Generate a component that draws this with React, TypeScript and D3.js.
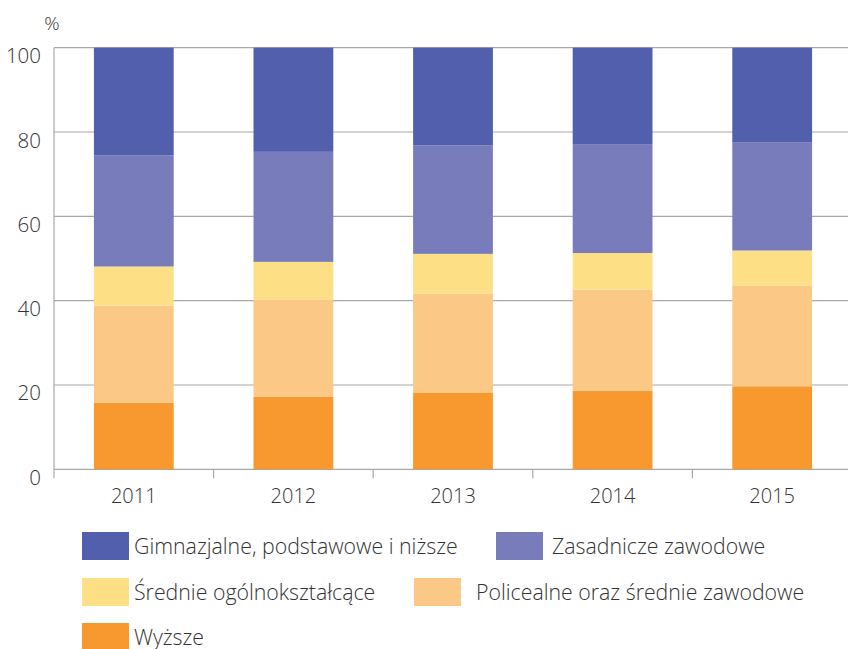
import React, { useEffect, useRef } from 'react';
import * as d3 from 'd3';

const years = ['2011', '2012', '2013', '2014', '2015'];
const seriesNames = [
  'Wyższe',
  'Policealne oraz średnie zawodowe',
  'Średnie ogólnokształcące',
  'Zasadnicze zawodowe',
  'Gimnazjalne, podstawowe i niższe',
];
// shares in %, per year
const wyzsze = [15.8, 17.2, 18.1, 18.6, 19.7];
const policealne = [23.0, 23.0, 23.6, 24.0, 23.9];
const srednie = [9.3, 9.0, 9.4, 8.7, 8.3];
const zasadnicze = [26.4, 26.1, 25.7, 25.7, 25.7];
const gimnazjalne = [25.5, 24.7, 23.2, 23.0, 22.4];
const colors = ['#f7992e', '#fcc886', '#fde085', '#797cba', '#515fad'];
const yTicks = [0, 20, 40, 60, 80, 100];

// legend order as in the picture
const legendOrder = [4, 3, 2, 1, 0];

const App = () => {
  const svgRef = useRef<SVGSVGElement>(null);

  useEffect(() => {
    const svg = d3.select(svgRef.current);
    svg.selectAll('*').remove();

    const font = '"Open Sans", sans-serif';
    const textColor = '#333333';
    const left = 54;
    const right = 852;
    const top = 47.7;
    const bottom = 469.3;

    const rows = years.map((y, i) => ({
      year: y,
      s0: wyzsze[i],
      s1: policealne[i],
      s2: srednie[i],
      s3: zasadnicze[i],
      s4: gimnazjalne[i],
    }));
    const stack = d3.stack<any>().keys(['s0', 's1', 's2', 's3', 's4']);
    const layers = stack(rows);

    const x = d3.scaleBand().domain(years).range([left, right]).paddingInner(0.5).paddingOuter(0.25);
    const y = d3.scaleLinear().domain([0, 100]).range([bottom, top]);

    // gridlines
    svg.append('g')
      .selectAll('line')
      .data(yTicks)
      .enter()
      .append('line')
      .attr('x1', left)
      .attr('x2', 848)
      .attr('y1', d => y(d))
      .attr('y2', d => y(d))
      .attr('stroke', '#a8a8a8')
      .attr('stroke-width', 1.2);

    // y axis line
    svg.append('line')
      .attr('x1', left).attr('x2', left)
      .attr('y1', top).attr('y2', bottom + 9)
      .attr('stroke', '#a8a8a8').attr('stroke-width', 1.2);

    // x ticks between categories
    const step = x.step();
    svg.append('g')
      .selectAll('line')
      .data(years.slice(1))
      .enter()
      .append('line')
      .attr('x1', d => (x(d) as number) - step * 0.25)
      .attr('x2', d => (x(d) as number) - step * 0.25)
      .attr('y1', bottom)
      .attr('y2', bottom + 9)
      .attr('stroke', '#a8a8a8')
      .attr('stroke-width', 1.2);

    // bars
    svg.append('g')
      .selectAll('g')
      .data(layers)
      .enter()
      .append('g')
      .attr('fill', (d, i) => colors[i])
      .selectAll('rect')
      .data(d => d)
      .enter()
      .append('rect')
      .attr('x', d => x(d.data.year) as number)
      .attr('y', d => y(d[1]))
      .attr('width', x.bandwidth())
      .attr('height', d => y(d[0]) - y(d[1]));

    // y labels
    svg.append('g')
      .selectAll('text')
      .data(yTicks)
      .enter()
      .append('text')
      .attr('x', 41)
      .attr('y', d => y(d) + 15.5)
      .attr('text-anchor', 'end')
      .attr('font-family', font)
      .attr('font-weight', 300)
      .attr('font-size', 20.5)
      .attr('fill', textColor)
      .text(d => d);

    svg.append('text')
      .attr('x', 52)
      .attr('y', 30)
      .attr('text-anchor', 'middle')
      .attr('font-family', font)
      .attr('font-weight', 300)
      .attr('font-size', 19)
      .attr('fill', textColor)
      .text('%');

    // x labels
    svg.append('g')
      .selectAll('text')
      .data(years)
      .enter()
      .append('text')
      .attr('x', d => (x(d) as number) + x.bandwidth() / 2)
      .attr('y', 503)
      .attr('text-anchor', 'middle')
      .attr('font-family', font)
      .attr('font-weight', 300)
      .attr('font-size', 20)
      .attr('fill', textColor)
      .text(d => d);

    // legend
    const legendPos = [
      { x: 82, y: 532, tx: 134 },
      { x: 496, y: 532, tx: 552 },
      { x: 82, y: 578, tx: 134 },
      { x: 414, y: 578, tx: 476 },
      { x: 82, y: 623, tx: 134 },
    ];
    const lg = svg.append('g');
    legendOrder.forEach((si, k) => {
      const p = legendPos[k];
      lg.append('rect')
        .attr('x', p.x).attr('y', p.y)
        .attr('width', 47).attr('height', 28)
        .attr('fill', colors[si]);
      lg.append('text')
        .attr('x', p.tx)
        .attr('y', p.y + 21.5)
        .attr('font-family', font)
        .attr('font-weight', 300)
        .attr('font-size', 21.3)
        .attr('fill', textColor)
        .text(seriesNames[si]);
    });
  }, []);

  return (
    <svg ref={svgRef} width={848} height={649} style={{ position: 'absolute', left: 0, top: 0 }} />
  );
};

export default App;
